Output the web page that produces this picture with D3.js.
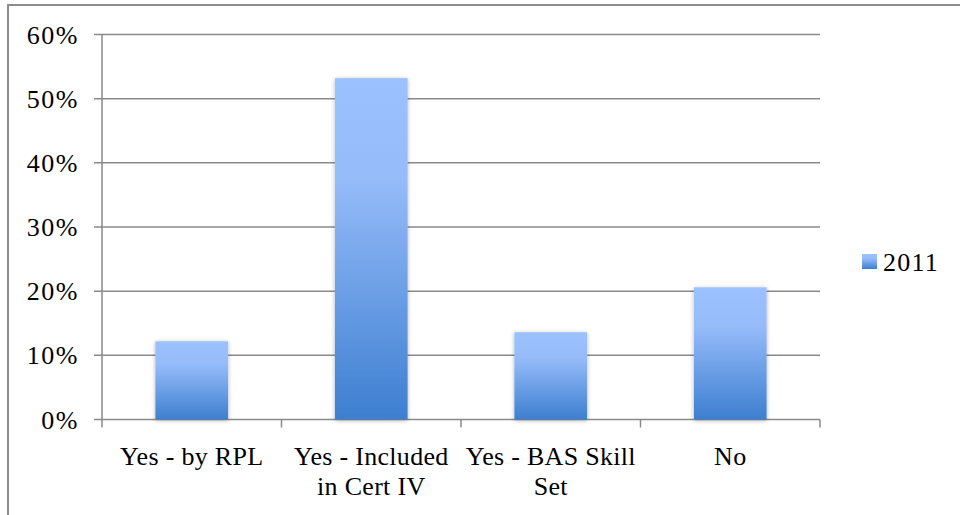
<!DOCTYPE html>
<html><head><meta charset="utf-8">
<script src="https://cdn.jsdelivr.net/npm/d3@7"></script>
<style>body{margin:0;background:#fff}svg{display:block}text{font-family:"Liberation Serif",serif;fill:#000}</style>
</head><body>
<svg id="c" width="960" height="515"></svg>
<script>
const categories = [["Yes - by RPL"], ["Yes - Included", "in Cert IV"], ["Yes - BAS Skill", "Set"], ["No"]];
const values2011 = [0.122, 0.532, 0.136, 0.206];
const yTicks = [0, 0.1, 0.2, 0.3, 0.4, 0.5, 0.6];
const seriesName = "2011";

const svg = d3.select("#c");
const defs = svg.append("defs");
const g1 = defs.append("linearGradient").attr("id","bg").attr("x1",0).attr("y1",0).attr("x2",0).attr("y2",1);
g1.append("stop").attr("offset","0%").attr("stop-color","#9bc1ff");
g1.append("stop").attr("offset","30%").attr("stop-color","#95bbf9");
g1.append("stop").attr("offset","100%").attr("stop-color","#3d7fd0");
const f = defs.append("filter").attr("id","sh").attr("x","-20%").attr("y","-20%").attr("width","140%").attr("height","140%");
f.append("feDropShadow").attr("dx",0).attr("dy",1).attr("stdDeviation",2).attr("flood-color","#000").attr("flood-opacity",0.3);

// outer border
svg.append("rect").attr("x",8).attr("y",5).attr("width",1000).attr("height",600)
  .attr("fill","none").attr("stroke","#8c8c8c").attr("stroke-width",2);

const L=102, R=820, T=34.5, B=419.5;
const x = d3.scaleBand().domain(d3.range(categories.length)).range([L,R]).paddingInner(0).paddingOuter(0);
const y = d3.scaleLinear().domain([0,0.6]).range([B,T]);

// gridlines
svg.append("g").selectAll("line").data(yTicks).join("line")
  .attr("x1",L-8).attr("x2",R).attr("y1",d=>y(d)).attr("y2",d=>y(d))
  .attr("stroke","#8a8a8a").attr("stroke-width",1.5);

// y axis line
svg.append("line").attr("x1",L).attr("x2",L).attr("y1",T).attr("y2",B)
  .attr("stroke","#8a8a8a").attr("stroke-width",1.5);

// category ticks
const bounds = d3.range(categories.length+1).map(i => i<categories.length ? x(i) : R);
svg.append("g").selectAll("line").data(bounds).join("line")
  .attr("x1",d=>d).attr("x2",d=>d).attr("y1",B).attr("y2",B+8)
  .attr("stroke","#8a8a8a").attr("stroke-width",1.5);

// y labels
svg.append("g").selectAll("text").data(yTicks).join("text")
  .attr("x",L-23).attr("y",d=>y(d)+9).attr("text-anchor","end")
  .attr("font-size",26).attr("letter-spacing",1.5).text(d=>d3.format(".0%")(d));

// bars
const bw = x.bandwidth()*0.405;
svg.append("g").selectAll("rect").data(values2011).join("rect")
  .attr("x",(d,i)=>x(i)+x.bandwidth()/2-bw/2).attr("width",bw)
  .attr("y",d=>y(d)).attr("height",d=>B-y(d))
  .attr("fill","url(#bg)").attr("filter","url(#sh)");

// category labels
const cl = svg.append("g").selectAll("text").data(categories).join("text")
  .attr("text-anchor","middle").attr("font-size",26).attr("letter-spacing",0.3)
  .attr("transform",(d,i)=>`translate(${x(i)+x.bandwidth()/2},0)`);
cl.selectAll("tspan").data(d=>d).join("tspan")
  .attr("x",0).attr("y",(d,j)=>465+j*30).text(d=>d);

// legend
const lg = svg.append("g").attr("transform","translate(862,254)");
lg.append("rect").attr("width",15).attr("height",15).attr("fill","url(#bg)");
lg.append("text").attr("x",21).attr("y",17).attr("font-size",26).attr("letter-spacing",1.2).text(seriesName);
</script>
</body></html>
